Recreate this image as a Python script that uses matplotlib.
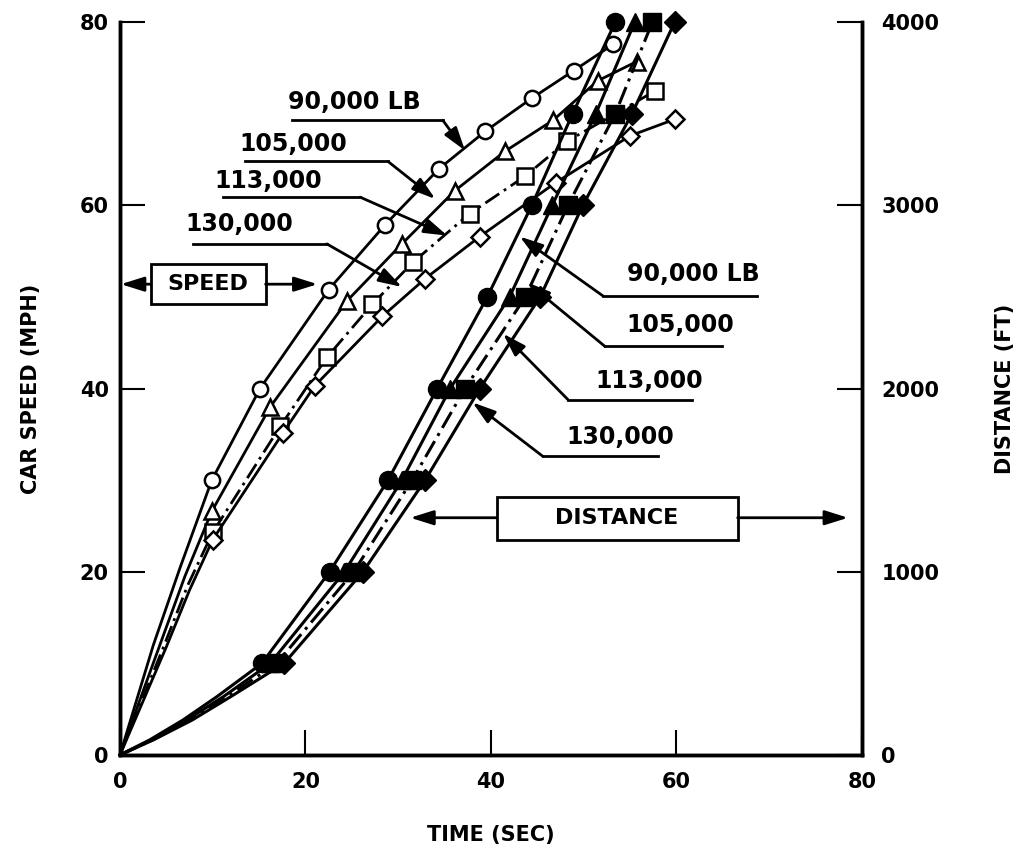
import numpy as np
import matplotlib.pyplot as plt
from matplotlib.patches import Rectangle

plt.rcParams['font.family'] = 'DejaVu Sans'
plt.rcParams['font.weight'] = 'bold'

# car speed (mph) vs time (sec), hollow markers
t_spd_90 = [0, 3.6, 6.5, 9.9, 15.1, 22.5, 28.6, 34.4, 39.4, 44.4, 48.9, 53.2]
v_spd_90 = [0, 12.0, 20.5, 30, 40, 50.8, 57.9, 64.0, 68.1, 71.7, 74.7, 77.6]
t_spd_105 = [0, 4.3, 7.0, 9.9, 16.2, 24.5, 30.4, 36.1, 41.5, 46.7, 51.5, 55.7]
v_spd_105 = [0, 12.0, 19.5, 26.6, 38.0, 49.6, 55.8, 61.6, 65.9, 69.3, 73.6, 75.7]
t_spd_113 = [0, 4.7, 7.3, 10.0, 17.3, 22.3, 27.2, 31.6, 37.7, 43.7, 48.2, 57.7]
v_spd_113 = [0, 11.8, 18.5, 24.3, 35.9, 43.4, 49.2, 53.8, 59.1, 63.2, 67.0, 72.5]
t_spd_130 = [0, 5.0, 7.5, 10.0, 17.6, 21.0, 28.3, 32.9, 38.8, 47.0, 55.0, 59.8]
v_spd_130 = [0, 11.8, 18.0, 23.5, 35.2, 40.3, 47.9, 52.0, 56.6, 62.5, 67.6, 69.4]

# distance (ft) vs time (sec), filled markers
d_levels = [0, 82, 191, 320, 500, 1000, 1500, 2000, 2500, 3000, 3500, 4000]
t_dst_90 = [0, 3.2, 6.8, 10.5, 15.3, 22.6, 28.9, 34.2, 39.6, 44.4, 48.8, 53.4]
t_dst_105 = [0, 3.4, 7.2, 11.2, 16.2, 24.2, 30.4, 35.6, 42.0, 46.6, 51.3, 55.5]
t_dst_113 = [0, 3.5, 7.5, 11.6, 16.9, 25.2, 31.5, 37.2, 43.7, 48.3, 53.4, 57.4]
t_dst_130 = [0, 3.6, 7.8, 12.0, 17.7, 26.2, 32.9, 38.8, 45.3, 49.9, 55.2, 59.8]

weights = ['90,000 LB', '105,000', '113,000', '130,000']
markers = ['o', '^', 's', 'D']
styles = ['-', '-', (0, (6, 2, 1, 2)), '-']

fig = plt.figure(figsize=(10.27, 8.55), dpi=100)
ax = fig.add_axes([0.1168, 0.117, 0.7225, 0.857])
ax2 = ax.twinx()

spd = [(t_spd_90, v_spd_90), (t_spd_105, v_spd_105),
       (t_spd_113, v_spd_113), (t_spd_130, v_spd_130)]
for (t, v), m, ls in zip(spd, markers, styles):
    ax.plot(t, v, color='black', lw=2, ls=ls, marker=m, ms=11 if m != 'D' else 9,
            mfc='white', mec='black', mew=1.8, markevery=slice(3, None))

dst = [t_dst_90, t_dst_105, t_dst_113, t_dst_130]
for t, m, ls in zip(dst, markers, styles):
    ax2.plot(t, d_levels, color='black', lw=2.2, ls=ls, marker=m,
             ms=13 if m != 'D' else 11, mfc='black', mec='black',
             markevery=slice(4, None), clip_on=False)

ax.set_xlim(0, 80)
ax.set_ylim(0, 80)
ax2.set_ylim(0, 4000)
ax.set_xticks([0, 20, 40, 60, 80])
ax.set_yticks([0, 20, 40, 60, 80])
ax2.set_yticks([0, 1000, 2000, 3000, 4000])

for a in (ax, ax2):
    a.spines['top'].set_visible(False)
    for s in ('left', 'bottom', 'right'):
        a.spines[s].set_linewidth(2.5)
ax.tick_params(axis='both', direction='in', length=18, width=1.5, labelsize=15)
ax.tick_params(axis='y', pad=8)
ax.tick_params(axis='x', pad=12)
ax2.tick_params(axis='y', direction='in', length=18, width=1.5, labelsize=15, pad=14)

ax.set_xlabel('TIME (SEC)', fontsize=15, fontweight='bold', labelpad=24)
ax.set_ylabel('CAR SPEED (MPH)', fontsize=15, fontweight='bold', labelpad=28)
ax2.set_ylabel('DISTANCE (FT)', fontsize=15, fontweight='bold', labelpad=40)

arrow = dict(arrowstyle='-|>,head_length=0.7,head_width=0.22', color='black', lw=2,
             mutation_scale=20, shrinkA=0, shrinkB=0)

# left leader labels (speed curves)
left_lab = [
    (25.3, 71.3, 18.5, 34.8, 69.3, 37.2, 66.0),
    (18.7, 66.7, 13.5, 28.9, 64.8, 34.0, 60.7),
    (16.0, 62.7, 11.1, 25.9, 60.9, 35.3, 56.7),
    (12.9, 58.0, 7.9, 22.3, 55.8, 30.4, 51.1),
]
for name, (tx, ty, x0, x1, yl, ex, ey) in zip(weights, left_lab):
    ax.text(tx, ty, name, fontsize=17, fontweight='bold', ha='center', va='center')
    ax.plot([x0, x1], [yl, yl], color='black', lw=2)
    ax.annotate('', xy=(ex, ey), xytext=(x1, yl), arrowprops=arrow)

# right leader labels (distance curves)
right_lab = [
    (61.8, 52.5, 52.1, 68.7, 50.1, 43.1, 56.6),
    (60.4, 46.9, 52.3, 64.9, 44.6, 43.9, 51.6),
    (57.1, 40.8, 48.3, 61.7, 38.8, 41.3, 46.0),
    (53.9, 34.7, 45.6, 58.0, 32.6, 38.0, 38.5),
]
for name, (tx, ty, x0, x1, yl, ex, ey) in zip(weights, right_lab):
    ax.text(tx, ty, name, fontsize=17, fontweight='bold', ha='center', va='center')
    ax.plot([x0, x1], [yl, yl], color='black', lw=2)
    ax.annotate('', xy=(ex, ey), xytext=(x0, yl), arrowprops=arrow)

# SPEED box
ax.add_patch(Rectangle((3.3, 49.2), 12.4, 4.4, fill=False, lw=2, ec='black', zorder=5))
ax.text(9.5, 51.4, 'SPEED', fontsize=16, fontweight='bold', ha='center', va='center')
ax.annotate('', xy=(0.1, 51.4), xytext=(3.3, 51.4), arrowprops=arrow)
ax.annotate('', xy=(21.3, 51.4), xytext=(15.7, 51.4), arrowprops=arrow)

# DISTANCE box
ax.add_patch(Rectangle((40.6, 23.5), 26.0, 4.7, fill=False, lw=2, ec='black', zorder=5))
ax.text(53.6, 25.9, 'DISTANCE', fontsize=16, fontweight='bold', ha='center', va='center')
ax.annotate('', xy=(31.3, 25.9), xytext=(40.6, 25.9), arrowprops=arrow)
ax.annotate('', xy=(78.5, 25.9), xytext=(66.6, 25.9), arrowprops=arrow,
            annotation_clip=False)

fig.savefig('out.png', dpi=100)
